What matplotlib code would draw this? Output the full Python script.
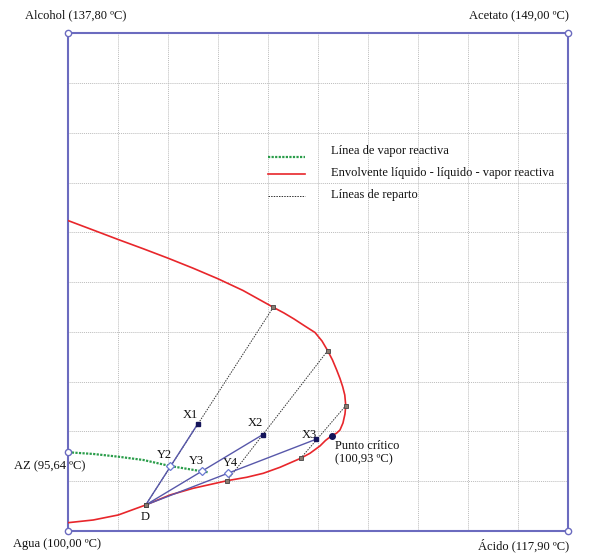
import matplotlib
matplotlib.use("Agg")
import matplotlib.pyplot as plt

# all coordinates in grid units (0..10 on both axes of the square diagram)
envelope_u = [0.0, 0.494, 0.995, 1.495, 1.995, 2.495, 2.996, 3.496, 4.102, 4.317, 4.517,
              4.717, 4.937, 5.077, 5.191, 5.287, 5.371, 5.437, 5.491, 5.533, 5.553, 5.537,
              5.497, 5.437, 5.367, 5.271, 5.147, 5.037, 4.837, 4.651,
              4.237, 3.902, 3.570, 3.182, 2.501, 2.035, 1.549, 1.001, 0.500, 0.0]
envelope_v = [6.235, 6.048, 5.857, 5.672, 5.481, 5.280, 5.066, 4.831, 4.493, 4.378, 4.258,
              4.127, 3.986, 3.815, 3.620, 3.433, 3.232, 3.061, 2.896, 2.729, 2.514, 2.347,
              2.166, 2.025, 1.959, 1.911, 1.814, 1.704, 1.557, 1.456,
              1.275, 1.154, 1.074, 1.006, 0.853, 0.718, 0.517, 0.316, 0.215, 0.161]

vapor_u = [0.0, 0.5, 1.0, 1.501, 2.035, 2.670, 2.802]
vapor_v = [1.577, 1.543, 1.488, 1.422, 1.301, 1.195, 1.175]

# tie lines: (lower end, upper end)
tie_lines = [((1.549, 0.517), (4.102, 4.493)),
             ((3.182, 1.006), (5.191, 3.620)),
             ((4.651, 1.456), (5.553, 2.514))]

point_D = (1.549, 0.517)
x_points = {"X1": (2.590, 2.146), "X2": (3.890, 1.931), "X3": (4.957, 1.838)}
y_points = {"Y2": (2.035, 1.301), "Y3": (2.670, 1.195), "Y4": (3.202, 1.154)}
critical = (5.271, 1.911)
azeotrope = (0.0, 1.577)

corner_labels = ["Alcohol (137,80 ºC)", "Acetato (149,00 ºC)",
                 "Agua (100,00 ºC)", "Ácido (117,90 ºC)"]
legend_labels = ["Línea de vapor reactiva",
                 "Envolvente líquido - líquido - vapor reactiva",
                 "Líneas de reparto"]

FRAME = "#6b6bbf"
BLUE = "#5858aa"
RED = "#e8262b"
GREEN = "#2a9d4a"
NAVY = "#14145a"
FONT = "Liberation Serif"

fig = plt.figure(figsize=(5.98, 5.54), dpi=100)
ax = fig.add_axes([0.1142, 0.0421, 0.8356, 0.8975])
ax.set_xlim(0, 10)
ax.set_ylim(0, 10)
ax.set_xticks(range(11))
ax.set_yticks(range(11))
ax.tick_params(length=0, labelbottom=False, labelleft=False)
ax.grid(True, color="#bcbcbc", linestyle=(0, (1, 1)), linewidth=0.7)
for side in ax.spines.values():
    side.set_color(FRAME)
    side.set_linewidth(1.5)

txt = dict(family=FONT, fontsize=9, color="#111111", clip_on=False)

# corners
ax.plot([0, 10, 0, 10], [10, 10, 0, 0], "o", ms=4.5, mfc="white", mec=FRAME,
        mew=1.0, clip_on=False, zorder=6)
ax.plot(*azeotrope, "o", ms=4.5, mfc="white", mec=FRAME, mew=1.0, clip_on=False, zorder=6)
ax.text(-0.866, 10.37, corner_labels[0], ha="left", va="center", **txt)
ax.text(10.02, 10.35, corner_labels[1], ha="right", va="center", **txt)
ax.text(-1.107, -0.27, corner_labels[2], ha="left", va="center", **txt)
ax.text(10.02, -0.29, corner_labels[3], ha="right", va="center", **txt)
ax.text(-1.087, 1.30, "AZ (95,64 ºC)", ha="left", va="center", **txt)

# curves
ax.plot(envelope_u, envelope_v, color=RED, lw=1.2, zorder=3, solid_joinstyle="round")
ax.plot(vapor_u, vapor_v, color=GREEN, lw=1.6, linestyle=(0, (1, 0.6)), zorder=3)

for (u0, v0), (u1, v1) in tie_lines:
    ax.plot([u0, u1], [v0, v1], color="#333333", lw=0.7, linestyle=(0, (1.5, 1.2)), zorder=2)
    ax.plot([u0, u1], [v0, v1], "s", ms=3, mfc="#8a7a70", mec="#444444", mew=0.6, zorder=5)

for name, (u, v) in x_points.items():
    ax.plot([point_D[0], u], [point_D[1], v], color=BLUE, lw=1.0, zorder=4)
    ax.plot(u, v, "s", ms=3.2, color=NAVY, zorder=6)

for name, (u, v) in y_points.items():
    ax.plot(u, v, "D", ms=4, mfc="white", mec="#6a78d0", mew=0.9, zorder=6)

ax.plot(*point_D, "s", ms=3, mfc="#8a7a70", mec="#444444", mew=0.6, zorder=6)
ax.plot(*critical, "o", ms=4, color=NAVY, zorder=6)

# point labels
ax.text(1.535, 0.28, "D", ha="center", va="center", **txt)
label_pos = {"X1": (2.437, 2.327), "X2": (3.736, 2.160), "X3": (4.823, 1.925),
             "Y2": (1.921, 1.523), "Y3": (2.570, 1.402), "Y4": (3.236, 1.356)}
for name, (u, v) in label_pos.items():
    ax.text(u, v, name, ha="center", va="center", **txt)
ax.text(5.337, 1.71, "Punto crítico", ha="left", va="center", **txt)
ax.text(5.337, 1.436, "(100,93 ºC)", ha="left", va="center", **txt)

# legend drawn by hand
ax.plot([4.0, 4.74], [7.51, 7.51], color=GREEN, lw=1.6, linestyle=(0, (1, 0.6)))
ax.plot([4.0, 4.74], [7.17, 7.17], color=RED, lw=1.2)
ax.plot([4.0, 4.74], [6.73, 6.73], color="#333333", lw=0.7, linestyle=(0, (1.5, 1.2)))
for v, label in zip([7.64, 7.20, 6.75], legend_labels):
    ax.text(5.26, v, label, ha="left", va="center", **txt)

fig.savefig("out.png", dpi=100)
